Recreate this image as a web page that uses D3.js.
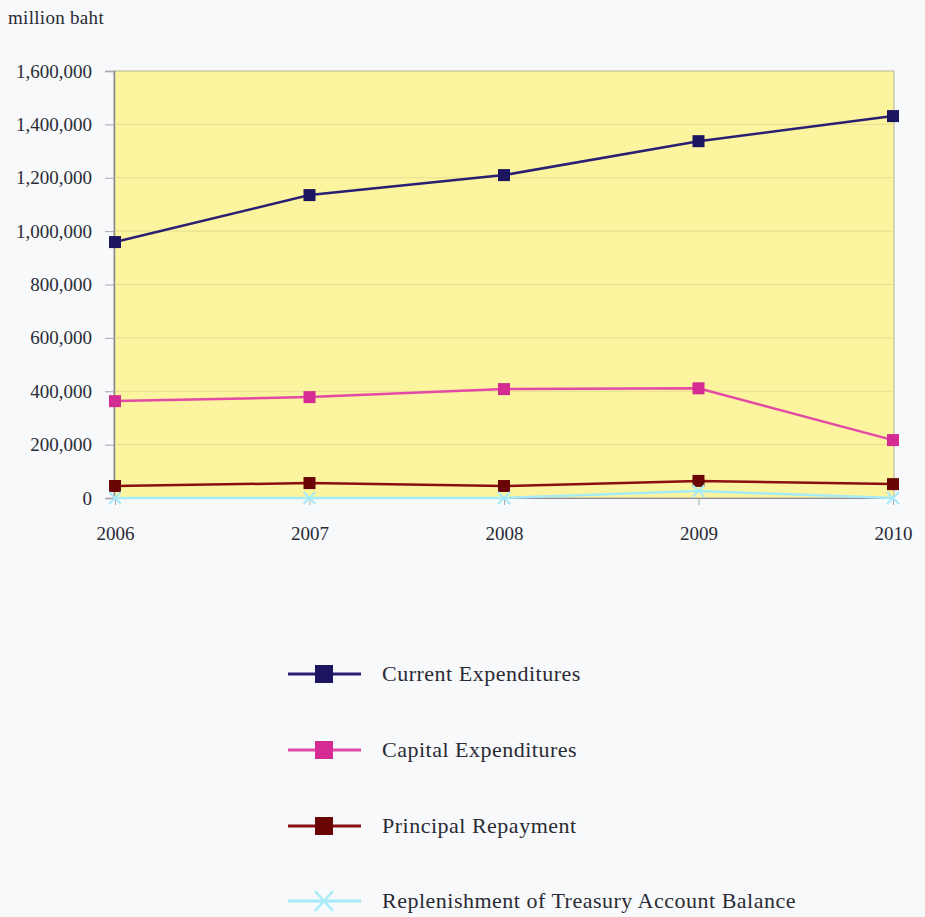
<!DOCTYPE html>
<html>
<head>
<meta charset="utf-8">
<script src="https://cdn.jsdelivr.net/npm/d3@7/dist/d3.min.js"></script>
<style>
  html, body { margin: 0; padding: 0; background: #f7f9fa; }
  svg { display: block; }
  text { font-family: "Liberation Serif", "Times New Roman", serif; fill: #2a2a35; }
</style>
</head>
<body>
<svg id="chart" width="925" height="917"></svg>
<script>
// Government expenditure by type, fiscal years 2006-2010 (million baht)
const years = ["2006", "2007", "2008", "2009", "2010"];
const currentExpenditures = [959000, 1135000, 1210000, 1337000, 1431000];
const capitalExpenditures = [363000, 378000, 408000, 411000, 217000];
const principalRepayment = [45000, 56000, 45000, 64000, 52000];
const treasuryReplenishment = [0, 0, 0, 26000, 0];
const yTicks = [0, 200000, 400000, 600000, 800000, 1000000, 1200000, 1400000, 1600000];
const unitLabel = "million baht";

const series = [
  { name: "Current Expenditures", values: currentExpenditures, line: "#2a1f72", fill: "#1c1560", marker: "square" },
  { name: "Capital Expenditures", values: capitalExpenditures, line: "#e24aa6", fill: "#d42c93", marker: "square" },
  { name: "Principal Repayment", values: principalRepayment, line: "#8a1010", fill: "#6a0505", marker: "square" },
  { name: "Replenishment of Treasury Account Balance", values: treasuryReplenishment, line: "#a6ebf7", fill: "#a6ebf7", marker: "x" }
];

const svg = d3.select("#chart");
const plot = { left: 114, right: 894, top: 71, bottom: 498 };

const x = d3.scalePoint().domain(years).range([plot.left + 1, plot.right - 1]);
const y = d3.scaleLinear().domain([0, 1600000]).range([plot.bottom, plot.top]);

// plot background
svg.append("rect")
  .attr("x", plot.left).attr("y", plot.top)
  .attr("width", plot.right - plot.left).attr("height", plot.bottom - plot.top)
  .attr("fill", "#fcf49e")
  .attr("stroke", "#b5b39a").attr("stroke-width", 1);

// horizontal gridlines
svg.append("g")
  .selectAll("line")
  .data(yTicks.filter(d => d > 0 && d < 1600000))
  .join("line")
  .attr("x1", plot.left).attr("x2", plot.right)
  .attr("y1", d => y(d)).attr("y2", d => y(d))
  .attr("stroke", "#e6dd92").attr("stroke-width", 1);

// y axis
const yAxis = svg.append("g")
  .attr("transform", `translate(${plot.left},0)`)
  .call(d3.axisLeft(y).tickValues(yTicks).tickSize(9).tickPadding(13)
    .tickFormat(d3.format(",")));
yAxis.select(".domain").attr("stroke", "#8c8a94").attr("stroke-width", 1.5);
yAxis.selectAll(".tick line").attr("stroke", "#a8a8b0");
yAxis.selectAll(".tick text")
  .style("font-size", "19px")
  .style("font-family", "'Liberation Serif', serif")
  .attr("fill", "#2a2a35");

// x axis
const xAxis = svg.append("g")
  .attr("transform", `translate(0,${plot.bottom})`)
  .call(d3.axisBottom(x).tickSize(7).tickPadding(22));
xAxis.select(".domain").attr("stroke", "#8c8a94").attr("stroke-width", 1);
xAxis.selectAll(".tick line").attr("stroke", "#a8a8b0");
xAxis.selectAll(".tick text")
  .style("font-size", "19px")
  .style("font-family", "'Liberation Serif', serif")
  .attr("fill", "#2a2a35");

// unit label
svg.append("text")
  .attr("x", 8).attr("y", 24)
  .style("font-size", "19px")
  .style("letter-spacing", "0.3px")
  .text(unitLabel);

const line = d3.line().x((d, i) => x(years[i])).y(d => y(d));

// series lines and markers
series.forEach(s => {
  const g = svg.append("g");
  g.append("path")
    .datum(s.values)
    .attr("d", line)
    .attr("fill", "none")
    .attr("stroke", s.line)
    .attr("stroke-width", 2.5);
  s.values.forEach((v, i) => {
    const cx = x(years[i]), cy = y(v);
    if (s.marker === "square") {
      g.append("rect")
        .attr("x", cx - 6).attr("y", cy - 6)
        .attr("width", 12).attr("height", 12)
        .attr("fill", s.fill);
    } else {
      g.append("path")
        .attr("d", `M${cx - 6},${cy - 6}L${cx + 6},${cy + 6}M${cx - 6},${cy + 6}L${cx + 6},${cy - 6}`)
        .attr("stroke", s.fill).attr("stroke-width", 2).attr("fill", "none");
    }
  });
});

// legend
const legendRows = [674, 750, 826, 901];
const legend = svg.append("g");
series.forEach((s, i) => {
  const ly = legendRows[i];
  const g = legend.append("g");
  g.append("line")
    .attr("x1", 288).attr("x2", 361).attr("y1", ly).attr("y2", ly)
    .attr("stroke", s.line).attr("stroke-width", 3);
  if (s.marker === "square") {
    g.append("rect")
      .attr("x", 315).attr("y", ly - 9)
      .attr("width", 18).attr("height", 18)
      .attr("fill", s.fill);
  } else {
    g.append("path")
      .attr("d", `M${315},${ly - 10}L${333},${ly + 10}M${315},${ly + 10}L${333},${ly - 10}`)
      .attr("stroke", s.fill).attr("stroke-width", 2.5).attr("fill", "none");
  }
  g.append("text")
    .attr("x", 382).attr("y", ly + 7)
    .style("font-size", "22px")
    .style("letter-spacing", "0.5px")
    .text(s.name);
});
</script>
</body>
</html>
